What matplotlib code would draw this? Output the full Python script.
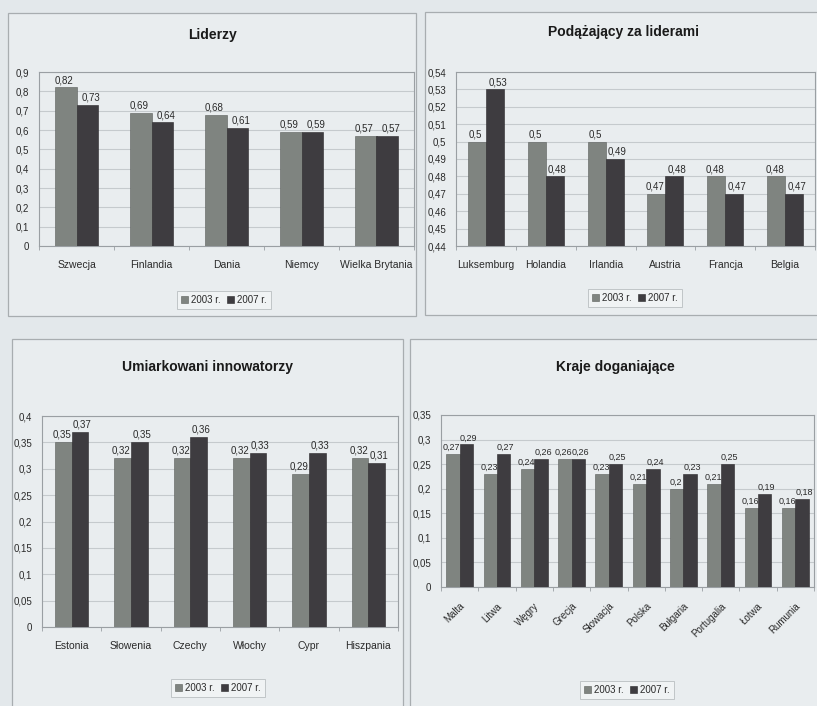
import matplotlib
matplotlib.use("Agg")
import matplotlib.pyplot as plt
from matplotlib.patches import Rectangle
import numpy as np

plt.rcParams['font.family'] = ['Liberation Sans Narrow', 'DejaVu Sans Condensed',
                               'Liberation Sans', 'DejaVu Sans']

W, H = 817, 706

series_names = ["2003 r.", "2007 r."]

# Liderzy
leaders = ["Szwecja", "Finlandia", "Dania", "Niemcy", "Wielka Brytania"]
leaders_2003 = [0.82, 0.69, 0.68, 0.59, 0.57]
leaders_2007 = [0.73, 0.64, 0.61, 0.59, 0.57]

# Podążający za liderami
followers = ["Luksemburg", "Holandia", "Irlandia", "Austria", "Francja", "Belgia"]
followers_2003 = [0.50, 0.50, 0.50, 0.47, 0.48, 0.48]
followers_2007 = [0.53, 0.48, 0.49, 0.48, 0.47, 0.47]

# Umiarkowani innowatorzy
moderate = ["Estonia", "Słowenia", "Czechy", "Włochy", "Cypr", "Hiszpania"]
moderate_2003 = [0.35, 0.32, 0.32, 0.32, 0.29, 0.32]
moderate_2007 = [0.37, 0.35, 0.36, 0.33, 0.33, 0.31]

# Kraje doganiające
catching = ["Malta", "Litwa", "Węgry", "Grecja", "Słowacja", "Polska",
            "Bułgaria", "Portugalia", "Łotwa", "Rumunia"]
catching_2003 = [0.27, 0.23, 0.24, 0.26, 0.23, 0.21, 0.20, 0.21, 0.16, 0.16]
catching_2007 = [0.29, 0.27, 0.26, 0.26, 0.25, 0.24, 0.23, 0.25, 0.19, 0.18]

BG = "#e3e8eb"
PANEL = "#e9edef"
C2003 = "#7f8480"
C2007 = "#3e3c40"
FRAME = "#9a9fa3"
GRID = "#c5cacd"
TXT = "#2a2a2a"

fig = plt.figure(figsize=(W / 100, H / 100), dpi=100)
fig.patch.set_facecolor(BG)


def rect(x0, y0, x1, y1):
    return [x0 / W, 1 - y1 / H, (x1 - x0) / W, (y1 - y0) / H]


def panel(x0, y0, x1, y1):
    fig.patches.append(Rectangle((x0 / W, 1 - y1 / H), (x1 - x0) / W, (y1 - y0) / H,
                                 transform=fig.transFigure, facecolor=PANEL,
                                 edgecolor="#a8adb0", linewidth=0.9, zorder=-5))


def fmt(v):
    s = f"{v:.2f}".rstrip("0").rstrip(".")
    return s.replace(".", ",")


def chart(box, cats, a, b, ymin, ymax, step, title, title_xy, legend_xy,
          width, rotate=False, value_size=7):
    ax = fig.add_axes(rect(*box))
    ax.set_zorder(2)
    ax.set_facecolor(PANEL)
    x = np.arange(len(cats))
    ax.bar(x - width / 2, a, width, color=C2003, edgecolor="#5a5e5b",
           linewidth=0.4, zorder=3, label=series_names[0])
    ax.bar(x + width / 2, b, width, color=C2007, edgecolor="#2a282b",
           linewidth=0.4, zorder=3, label=series_names[1])
    ax.set_ylim(ymin, ymax)
    ax.set_xlim(-0.5, len(cats) - 0.5)
    ticks = np.round(np.arange(ymin, ymax + step / 2, step), 4)
    ax.set_yticks(ticks)
    ax.set_yticklabels([fmt(t) for t in ticks], fontsize=7, color=TXT)
    ax.yaxis.grid(True, color=GRID, linewidth=0.8, zorder=0)
    ax.set_axisbelow(True)
    ax.tick_params(axis="y", length=0, pad=7)
    ax.set_xticks(x)
    if rotate:
        ax.set_xticklabels(cats, fontsize=7, color=TXT, rotation=45,
                           ha="right", rotation_mode="anchor")
        ax.tick_params(axis="x", length=0, pad=10)
    else:
        ax.set_xticklabels(cats, fontsize=7.5, color=TXT)
        ax.tick_params(axis="x", length=0, pad=10)
    ax.set_xticks(np.arange(-0.5, len(cats), 1), minor=True)
    ax.tick_params(axis="x", which="minor", length=3, color=FRAME, width=0.6)
    for s in ax.spines.values():
        s.set_color(FRAME)
        s.set_linewidth(0.8)
    off = (ymax - ymin) * 0.012
    for xi, v in zip(x, a):
        ax.text(xi - width / 2 - width * 0.08, v + off, fmt(v), ha="center",
                va="bottom", fontsize=value_size, color=TXT, zorder=4)
    for xi, v in zip(x, b):
        ax.text(xi + width / 2 + width * 0.15, v + off, fmt(v), ha="center",
                va="bottom", fontsize=value_size, color=TXT, zorder=4)
    fig.text(title_xy[0] / W, 1 - title_xy[1] / H, title, ha="center",
             va="center", fontsize=10, fontweight="bold", color="#1a1a1a")
    h, l = ax.get_legend_handles_labels()
    leg = fig.legend(h, l, loc="center",
                     bbox_to_anchor=(legend_xy[0] / W, 1 - legend_xy[1] / H),
                     ncol=2, fontsize=7, frameon=True, fancybox=False,
                     handlelength=0.7, handleheight=0.7, handletextpad=0.3,
                     columnspacing=0.7, borderpad=0.45, labelcolor=TXT)
    leg.get_frame().set_facecolor("#f3f5f6")
    leg.get_frame().set_edgecolor("#b5babd")
    leg.get_frame().set_linewidth(0.7)
    return ax


panel(8, 13, 416, 316)
panel(425, 12, 830, 315)
panel(12, 339, 403, 720)
panel(410, 339, 830, 720)

chart((39, 72, 414, 246), leaders, leaders_2003, leaders_2007,
      0, 0.9, 0.1, "Liderzy", (213, 35), (224, 300), 0.29)
chart((456, 72, 815, 246), followers, followers_2003, followers_2007,
      0.44, 0.54, 0.01, "Podążający za liderami", (623, 32), (635, 298), 0.30)
chart((42, 416, 398, 627), moderate, moderate_2003, moderate_2007,
      0, 0.4, 0.05, "Umiarkowani innowatorzy", (207, 367), (218, 688), 0.28)
chart((441, 415, 814, 587), catching, catching_2003, catching_2007,
      0, 0.35, 0.05, "Kraje doganiające", (615, 367), (627, 690), 0.36,
      rotate=True, value_size=6.5)

fig.savefig("out.png", dpi=100, facecolor=BG)
